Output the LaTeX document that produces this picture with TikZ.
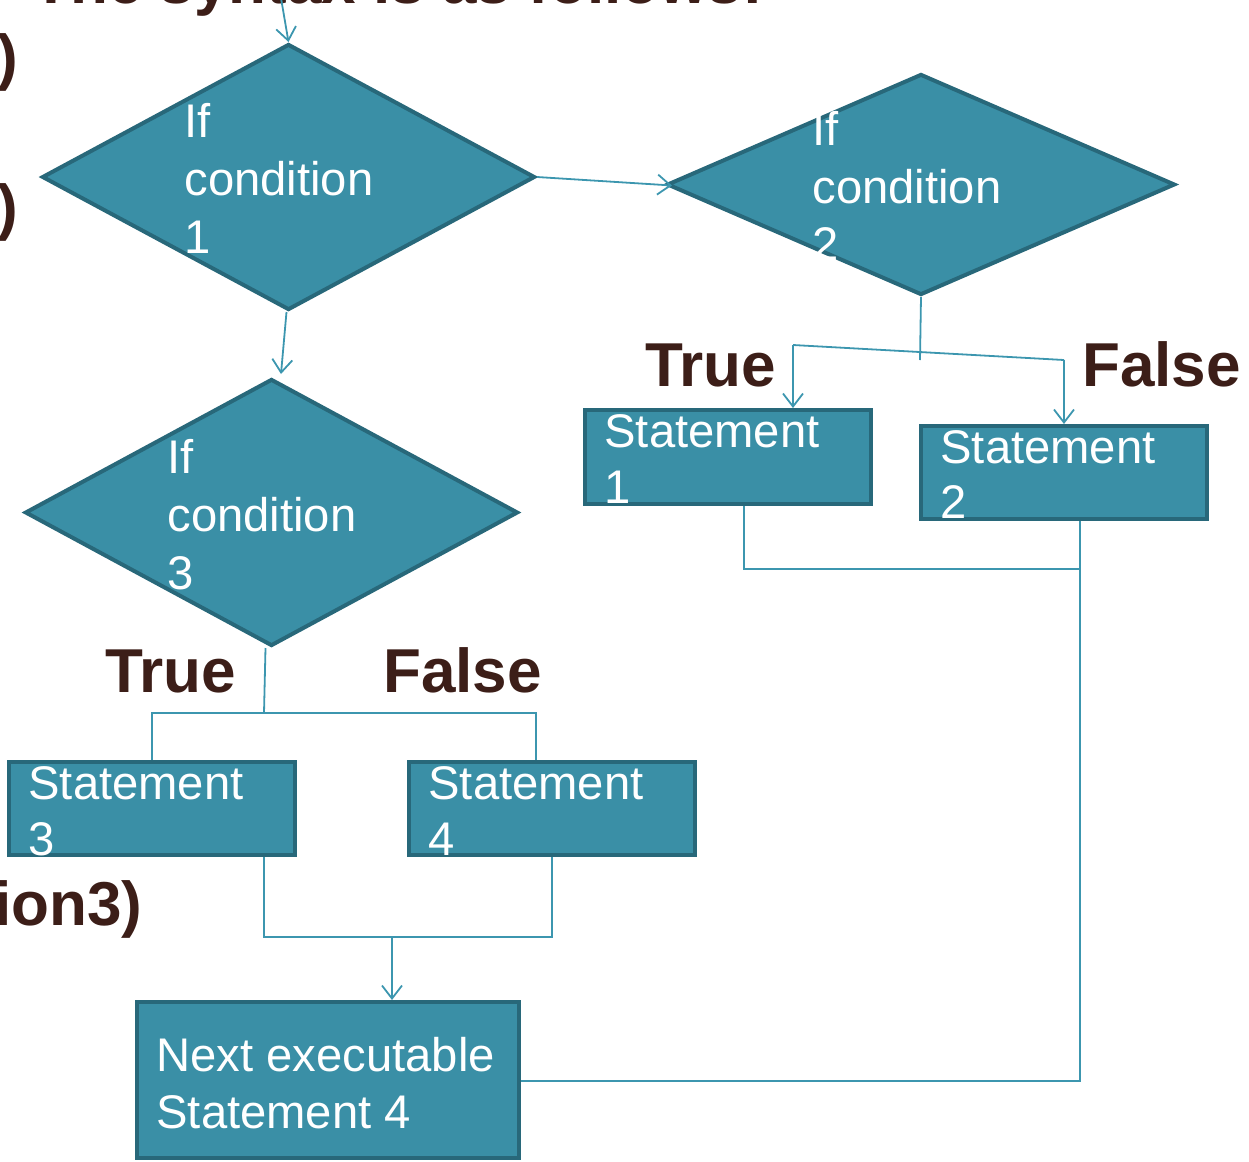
\documentclass[tikz,border=0pt]{standalone}
\usepackage{fontspec}
\setmainfont{Liberation Sans}
\usetikzlibrary{shapes.geometric,arrows.meta}
\definecolor{boxfill}{RGB}{58,143,166}
\definecolor{boxline}{RGB}{40,104,122}
\definecolor{conn}{RGB}{60,150,175}
\definecolor{brown}{RGB}{60,30,24}
\tikzset{
  dia/.style={diamond,draw=boxline,fill=boxfill,line width=2pt,inner sep=0pt,aspect=1.8},
  stbox/.style={rectangle,draw=boxline,fill=boxfill,line width=2pt,inner sep=0pt},
  lbl/.style={inner sep=0pt,text=white,font=\fontsize{23.6pt}{28pt}\selectfont},
  tf/.style={inner sep=0pt,text=brown,font=\fontsize{31pt}{36pt}\selectfont\bfseries},
  cn/.style={draw=conn,line width=0.9pt},
  arr/.style={cn,-{Straight Barb[length=6.5pt,width=10pt,line width=0.9pt]}}
}
\begin{document}
\begin{tikzpicture}[x=0.5pt,y=-0.5pt]
\useasboundingbox (0,0) rectangle (1249,1162);
\clip (0,0) rectangle (1249,1162);
% background fragments of slide text
\node[tf,anchor=base west] (bg1) at (32,3) {The syntax is as follows:};
\node[tf,anchor=base east] (bg2) at (19,78) {)};
\node[tf,anchor=base east] (bg3) at (19,228) {)};
\node[tf,anchor=base east] (bg4) at (143,925) {ion3)};
% diamonds
\node[dia,minimum width=246.5pt,minimum height=133pt] (d1) at (288.5,177) {};
\node[dia,minimum width=254pt,minimum height=110.5pt] (d2) at (921,184.5) {};
\node[dia,minimum width=246.5pt,minimum height=133.5pt] (d3) at (271.5,512.5) {};
% boxes
\node[stbox,minimum width=143pt,minimum height=47pt] (s1) at (728,457) {};
\node[stbox,minimum width=143pt,minimum height=46.5pt] (s2) at (1064,472.5) {};
\node[stbox,minimum width=143pt,minimum height=46.5pt] (s3) at (152,808.5) {};
\node[stbox,minimum width=143pt,minimum height=46.5pt] (s4) at (552,808.5) {};
\node[stbox,minimum width=191pt,minimum height=78pt] (nx) at (328,1080) {};
% diamond texts
\node[lbl,anchor=base west] (d1a) at (184,137) {If};
\node[lbl,anchor=base west] (d1b) at (184,195) {condition};
\node[lbl,anchor=base west] (d1c) at (184,253) {1};
\node[lbl,anchor=base west] (d2a) at (812,145) {If};
\node[lbl,anchor=base west] (d2b) at (812,203) {condition};
\node[lbl,anchor=base west] (d2c) at (812,260) {2};
\node[lbl,anchor=base west] (d3a) at (167,473) {If};
\node[lbl,anchor=base west] (d3b) at (167,531) {condition};
\node[lbl,anchor=base west] (d3c) at (167,589) {3};
% box texts
\node[lbl,anchor=base west] (s1a) at (604,447) {Statement};
\node[lbl,anchor=base west] (s1b) at (604,503) {1};
\node[lbl,anchor=base west] (s2a) at (940,463) {Statement};
\node[lbl,anchor=base west] (s2b) at (940,518) {2};
\node[lbl,anchor=base west] (s3a) at (28,799) {Statement};
\node[lbl,anchor=base west] (s3b) at (28,855) {3};
\node[lbl,anchor=base west] (s4a) at (428,799) {Statement};
\node[lbl,anchor=base west] (s4b) at (428,855) {4};
\node[lbl,anchor=base west] (nxa) at (156,1071) {Next executable};
\node[lbl,anchor=base west] (nxb) at (156,1128) {Statement 4};
% True / False
\node[tf,anchor=base west] (t1) at (645,386) {True};
\node[tf,anchor=base west] (f1) at (1082,386) {False};
\node[tf,anchor=base west] (t2) at (105,692) {True};
\node[tf,anchor=base west] (f2) at (383,692) {False};
% coordinates
\coordinate (top) at (281,-2);
\coordinate (d3in) at (281,374);
\coordinate (j2) at (920,360);
\coordinate (bl) at (793,345);
\coordinate (br) at (1064,360);
\coordinate (j3) at (264,713);
\coordinate (j3l) at (152,713);
\coordinate (j3r) at (536,713);
\coordinate (j4l) at (264,937);
\coordinate (j4r) at (552,937);
\coordinate (j4m) at (392,937);
\coordinate (j1l) at (744,569);
\coordinate (j1r) at (1080,569);
\coordinate (j5) at (1080,1081);
% connectors
\draw[arr] (top) -- (d1.north);
\draw[arr] (d1.east) -- ([xshift=3.5pt,yshift=-0.5pt]d2.west);
\draw[arr] ([xshift=-1pt]d1.south) -- (d3in);
\draw[cn] (d2.south) -- (j2);
\draw[cn] (bl) -- (br);
\draw[arr] (bl) -- (bl |- s1.north);
\draw[arr] (br) -- (br |- s2.north);
\draw[cn] ([xshift=-3pt]d3.south) -- (j3);
\draw[cn] (s3.north -| j3l) -- (j3l) -- (j3r) -- (s4.north -| j3r);
\draw[cn] (s3.south -| j4l) -- (j4l) -- (j4r) -- (s4.south -| j4r);
\draw[arr] (j4m) -- (j4m |- nx.north);
\draw[cn] (s1.south -| j1l) -- (j1l) -- (j1r);
\draw[cn] (s2.south -| j5) -- (j5) -- (nx.east |- j5);
\end{tikzpicture}
\end{document}
